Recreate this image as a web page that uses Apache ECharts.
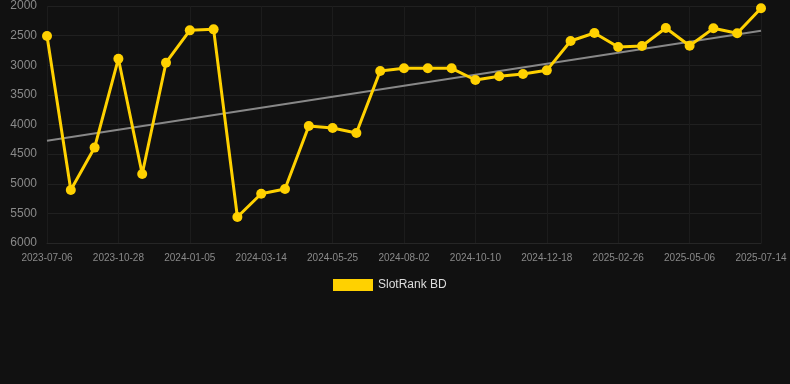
<!DOCTYPE html>
<html><head><meta charset="utf-8">
<script src="https://cdn.jsdelivr.net/npm/echarts@6/dist/echarts.min.js"></script>
<style>html,body{margin:0;padding:0;background:#111111;}#c{width:790px;height:384px;}</style>
</head><body><div id="c"></div>
<script>
const categories = ["2023-07-06","2023-07-30","2023-08-23","2023-10-28","2023-11-20","2023-12-13","2024-01-05","2024-01-28","2024-02-20","2024-03-14","2024-04-06","2024-05-01","2024-05-25","2024-06-17","2024-07-10","2024-08-02","2024-08-25","2024-09-17","2024-10-10","2024-11-02","2024-11-25","2024-12-18","2025-01-10","2025-02-03","2025-02-26","2025-03-21","2025-04-13","2025-05-06","2025-05-29","2025-06-21","2025-07-14"];
const rankValues = [2505,5105,4390,2890,4835,2957,2411,2394,5561,5168,5089,4025,4059,4143,3097,3052,3052,3052,3249,3187,3148,3086,2591,2456,2692,2675,2371,2670,2377,2461,2039];
const trendEnds = [4273, 2417];
const yTicks = {min: 2000, max: 6000, interval: 500};
const seriesName = "SlotRank BD";

const chart = echarts.init(document.getElementById('c'));
chart.setOption({
  backgroundColor: '#111111',
  animation: false,
  grid: {left: 47, right: 29, top: 6, bottom: 141},
  legend: {
    data: [seriesName], top: 274, left: 328,
    itemWidth: 40, itemHeight: 12, icon: 'rect',
    textStyle: {color: '#dddddd', fontSize: 12, fontFamily: 'Liberation Sans, Arial, sans-serif'}
  },
  xAxis: {
    type: 'category', data: categories, boundaryGap: false,
    axisLine: {show: true, lineStyle: {color: '#262626'}},
    axisTick: {show: false},
    axisLabel: {interval: 2, color: '#8a8a8a', fontSize: 10, margin: 10, fontFamily: 'Liberation Sans, Arial, sans-serif'},
    splitLine: {show: true, interval: 2, lineStyle: {color: '#1c1c1c'}}
  },
  yAxis: {
    type: 'value', inverse: true, min: yTicks.min, max: yTicks.max, interval: yTicks.interval,
    axisLine: {show: false}, axisTick: {show: false},
    axisLabel: {color: '#8a8a8a', fontSize: 12, margin: 10, fontFamily: 'Liberation Sans, Arial, sans-serif', formatter: v => String(v)},
    splitLine: {lineStyle: {color: '#202020'}}
  },
  series: [
    {
      name: seriesName, type: 'line', data: rankValues,
      symbol: 'circle', symbolSize: 10,
      lineStyle: {color: '#FFD100', width: 3},
      itemStyle: {color: '#FFD100'},
      z: 3
    },
    {
      name: 'trend', type: 'line',
      data: [[0, trendEnds[0]], [categories.length - 1, trendEnds[1]]],
      symbol: 'none',
      lineStyle: {color: '#888888', width: 2},
      z: 2
    }
  ]
});
</script></body></html>
